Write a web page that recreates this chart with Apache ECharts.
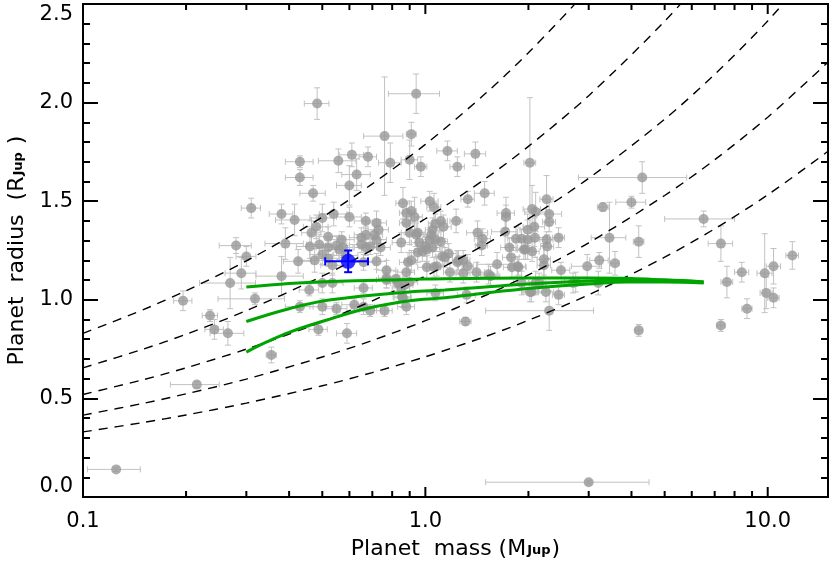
<!DOCTYPE html>
<html>
<head>
<meta charset="utf-8">
<script src="https://cdn.jsdelivr.net/npm/echarts@6/dist/echarts.min.js"></script>
<style>
  html, body { margin: 0; padding: 0; background: #fff; }
  #mass_radius { width: 830px; height: 568px; }
</style>
</head>
<body>
<div id="mass_radius"></div>
<script>
// known transiting planets: mass (MJup), radius (RJup) and their errors
var planetMass = [0.125, 0.196, 0.215, 0.235, 0.242, 0.265, 0.269, 0.318, 0.355, 0.43, 0.458, 0.487, 0.50, 0.50, 0.535, 0.55, 0.59, 0.62, 0.66, 0.66,
  0.69, 0.76, 0.77, 0.83, 0.855, 0.88, 0.483, 0.94, 0.76, 0.91, 0.61, 0.557, 0.68, 0.43, 0.43, 0.63, 0.79, 0.90, 0.60, 0.47,
  0.31, 0.38, 0.415, 0.54, 0.60, 0.50, 0.86, 0.88, 0.91, 0.67, 0.72, 0.73, 0.48, 0.465, 0.52, 0.57, 0.67, 0.65, 0.71, 0.72,
  0.39, 0.49, 0.46, 0.52, 0.65, 0.67, 0.69, 0.74, 0.28, 0.30, 0.29, 0.56, 0.585, 0.52, 0.475, 0.425, 0.72, 0.77, 0.66, 0.38,
  0.77, 0.82, 0.90, 0.87, 0.91, 0.90, 0.88, 0.97, 1.16, 1.24, 1.40, 2.02, 1.03, 1.06, 1.33, 1.49, 1.23, 1.11, 1.07, 1.72,
  1.72, 2.05, 2.10, 2.26, 2.30, 2.30, 2.08, 1.71, 1.42, 1.47, 1.46, 1.84, 1.91, 2.09, 2.26, 2.45, 2.27, 1.94, 2.05, 1.76,
  1.78, 1.62, 1.79, 1.87, 2.22, 2.22, 2.49, 2.97, 3.22, 3.58, 3.30, 4.00, 4.30, 3.45, 4.20, 6.50, 7.30, 7.60, 8.40, 9.80,
  10.4, 11.8, 1.14, 1.17, 1.01, 1.08, 1.24, 1.29, 1.33, 1.41, 1.55, 1.13, 0.93, 0.95, 0.96, 0.98, 1.03, 1.05, 1.07, 1.05,
  1.07, 1.32, 2.04, 2.25, 2.45, 2.30, 1.31, 4.20, 7.30, 8.70, 9.90, 10.4, 3.00, 2.70, 3.20, 1.91, 2.10, 0.94, 1.04, 0.85,
  1.00, 1.01, 1.11, 0.95, 1.12, 1.25, 1.53, 1.86, 1.96, 1.99, 1.99, 0.89, 1.06, 0.88, 1.18, 1.29, 0.85, 0.86, 2.15, 2.02,
  2.75, 0.50, 0.575, 0.535, 0.55];
var planetRadius = [0.14, 0.995, 0.57, 0.92, 0.85, 0.83, 1.085, 1.005, 0.72, 0.965, 1.05, 0.85, 1.085, 0.965, 1.085, 0.955, 0.83, 0.975, 1.06, 0.965,
  0.945, 0.945, 1.10, 1.085, 1.015, 0.965, 1.995, 2.045, 1.83, 1.84, 1.735, 1.705, 1.725, 1.70, 1.62, 1.635, 1.695, 1.71, 1.58, 1.54,
  1.465, 1.435, 1.405, 1.435, 1.42, 1.415, 1.49, 1.44, 1.45, 1.40, 1.39, 1.355, 1.37, 1.34, 1.32, 1.305, 1.33, 1.315, 1.33, 1.305,
  1.285, 1.28, 1.27, 1.265, 1.28, 1.265, 1.27, 1.265, 1.275, 1.22, 1.135, 1.255, 1.225, 1.21, 1.20, 1.195, 1.195, 1.15, 1.19, 1.12,
  1.11, 1.105, 1.09, 1.075, 1.20, 1.34, 1.39, 1.675, 1.755, 1.675, 1.74, 1.695, 1.50, 1.47, 1.51, 1.54, 1.40, 1.40, 1.385, 1.44,
  1.42, 1.46, 1.445, 1.51, 1.435, 1.395, 1.37, 1.345, 1.34, 1.31, 1.275, 1.31, 1.31, 1.315, 1.305, 1.315, 1.27, 1.255, 1.245, 1.265,
  1.215, 1.18, 1.165, 1.165, 1.205, 1.175, 1.15, 1.17, 1.20, 1.185, 1.47, 1.495, 1.62, 1.315, 1.295, 1.41, 1.285, 1.09, 1.14, 1.135,
  1.17, 1.225, 1.215, 1.235, 1.165, 1.17, 1.19, 1.20, 1.17, 1.14, 1.12, 1.37, 1.42, 1.34, 1.29, 1.245, 1.305, 1.265, 1.305, 1.355,
  1.035, 1.025, 1.04, 1.04, 1.025, 0.945, 0.89, 0.845, 0.87, 0.955, 1.035, 1.01, 0.075, 1.085, 1.085, 1.085, 1.085, 1.33, 1.33, 1.29,
  1.27, 1.255, 1.295, 1.24, 1.22, 1.20, 1.13, 1.17, 1.255, 1.305, 1.355, 1.19, 1.165, 1.14, 1.14, 1.135, 1.06, 1.01, 1.085, 1.04,
  1.09, 1.23, 1.265, 1.175, 1.275];
var massErr = [0.022, 0.012, 0.035, 0.012, 0.015, 0.03, 0.05, 0.07, 0.012, 0.04, 0.03, 0.03, 0.04, 0.04, 0.04, 0.04, 0.04, 0.05, 0.04, 0.05,
  0.05, 0.04, 0.05, 0.04, 0.05, 0.05, 0.04, 0.16, 0.10, 0.03, 0.05, 0.07, 0.04, 0.04, 0.04, 0.06, 0.06, 0.05, 0.05, 0.04,
  0.02, 0.03, 0.05, 0.05, 0.05, 0.04, 0.04, 0.04, 0.03, 0.05, 0.05, 0.05, 0.04, 0.03, 0.04, 0.05, 0.05, 0.05, 0.04, 0.05,
  0.05, 0.04, 0.04, 0.04, 0.05, 0.05, 0.05, 0.05, 0.03, 0.02, 0.03, 0.04, 0.05, 0.04, 0.05, 0.04, 0.05, 0.05, 0.05, 0.06,
  0.04, 0.04, 0.05, 0.05, 0.04, 0.05, 0.04, 0.04, 0.08, 0.06, 0.10, 0.08, 0.06, 0.05, 0.06, 0.10, 0.05, 0.05, 0.05, 0.10,
  0.05, 0.12, 0.15, 0.10, 0.20, 0.10, 0.15, 0.15, 0.10, 0.08, 0.06, 0.10, 0.10, 0.15, 0.10, 0.10, 0.10, 0.10, 0.10, 0.10,
  0.10, 0.20, 0.10, 0.10, 0.10, 0.10, 0.15, 0.30, 0.20, 0.10, 0.12, 0.40, 1.50, 0.40, 0.15, 1.50, 0.60, 0.30, 0.40, 0.50,
  0.50, 0.50, 0.06, 0.06, 0.06, 0.05, 0.08, 0.06, 0.05, 0.08, 0.10, 0.06, 0.05, 0.05, 0.05, 0.05, 0.05, 0.05, 0.05, 0.05,
  0.06, 0.08, 0.10, 0.12, 0.10, 0.80, 0.05, 0.10, 0.20, 0.30, 0.40, 0.40, 1.50, 0.20, 0.30, 0.10, 0.10, 0.05, 0.05, 0.05,
  0.05, 0.05, 0.05, 0.05, 0.05, 0.05, 0.10, 0.10, 0.10, 0.10, 0.10, 0.05, 0.05, 0.05, 0.05, 0.06, 0.05, 0.05, 0.10, 0.10,
  0.20, 0.04, 0.04, 0.04, 0.04];
var radiusErr = [0.01, 0.05, 0.015, 0.03, 0.05, 0.06, 0.13, 0.03, 0.04, 0.03, 0.03, 0.03, 0.05, 0.04, 0.05, 0.03, 0.05, 0.03, 0.03, 0.04,
  0.03, 0.03, 0.04, 0.04, 0.05, 0.04, 0.08, 0.10, 0.30, 0.06, 0.06, 0.06, 0.05, 0.03, 0.04, 0.08, 0.10, 0.10, 0.10, 0.04,
  0.05, 0.05, 0.08, 0.06, 0.05, 0.07, 0.08, 0.06, 0.05, 0.04, 0.06, 0.05, 0.06, 0.06, 0.05, 0.04, 0.04, 0.05, 0.05, 0.04,
  0.08, 0.05, 0.06, 0.05, 0.04, 0.04, 0.04, 0.04, 0.04, 0.05, 0.08, 0.05, 0.05, 0.04, 0.06, 0.06, 0.04, 0.05, 0.04, 0.10,
  0.05, 0.04, 0.05, 0.04, 0.05, 0.06, 0.06, 0.05, 0.05, 0.05, 0.06, 0.33, 0.05, 0.07, 0.04, 0.06, 0.06, 0.05, 0.05, 0.08,
  0.06, 0.12, 0.10, 0.12, 0.06, 0.05, 0.10, 0.08, 0.06, 0.05, 0.05, 0.06, 0.05, 0.10, 0.04, 0.05, 0.06, 0.05, 0.05, 0.05,
  0.06, 0.06, 0.05, 0.04, 0.08, 0.10, 0.04, 0.06, 0.04, 0.06, 0.02, 0.03, 0.08, 0.18, 0.08, 0.04, 0.09, 0.08, 0.05, 0.20,
  0.09, 0.07, 0.05, 0.05, 0.06, 0.05, 0.06, 0.05, 0.06, 0.05, 0.05, 0.06, 0.10, 0.08, 0.06, 0.05, 0.06, 0.05, 0.06, 0.06,
  0.04, 0.04, 0.05, 0.05, 0.05, 0.10, 0.02, 0.03, 0.03, 0.05, 0.08, 0.05, 0.01, 0.05, 0.06, 0.06, 0.06, 0.06, 0.06, 0.05,
  0.05, 0.06, 0.05, 0.05, 0.05, 0.05, 0.05, 0.05, 0.05, 0.10, 0.08, 0.05, 0.05, 0.05, 0.05, 0.05, 0.05, 0.05, 0.05, 0.05,
  0.05, 0.05, 0.05, 0.05, 0.05];

// highlighted planet
var newMass = [0.595], newRadius = [1.195], newMassErr = [0.085], newRadiusErr = [0.055];

// iso-density curves (dashed)
var isoMass = [0.1, 0.15, 0.2, 0.3, 0.5, 0.7, 1, 1.5, 2, 3, 5, 7, 10, 15];
var isoR1 = [0.83, 0.95, 1.046, 1.197, 1.419, 1.588, 1.788, 2.047, 2.253, 2.579, 3.058, 3.42, 3.853, 4.41];
var isoR2 = [0.655, 0.75, 0.825, 0.945, 1.12, 1.253, 1.411, 1.615, 1.778, 2.035, 2.413, 2.699, 3.04, 3.48];
var isoR3 = [0.52, 0.595, 0.655, 0.75, 0.889, 0.995, 1.12, 1.282, 1.411, 1.616, 1.916, 2.143, 2.414, 2.763];
var isoR4 = [0.415, 0.475, 0.523, 0.598, 0.71, 0.794, 0.894, 1.023, 1.126, 1.289, 1.529, 1.71, 1.926, 2.205];
var isoR5 = [0.33, 0.378, 0.416, 0.476, 0.564, 0.631, 0.711, 0.814, 0.896, 1.025, 1.216, 1.36, 1.532, 1.753];

// model tracks (green)
var trackTopM = [0.3, 0.4, 0.53, 0.77, 1, 2, 3, 4, 5, 6.5];
var trackTopR = [1.065, 1.083, 1.093, 1.1, 1.105, 1.11, 1.11, 1.108, 1.1, 1.09];
var trackMidM = [0.3, 0.4, 0.53, 0.9, 1.14, 1.5, 2, 3, 4, 5, 6.5];
var trackMidR = [0.89, 0.955, 1.0, 1.04, 1.05, 1.065, 1.08, 1.095, 1.1, 1.1, 1.09];
var trackLowM = [0.3, 0.343, 0.4, 0.51, 0.67, 0.9, 1.14, 1.5, 2.08, 3, 3.9, 5, 6.5];
var trackLowR = [0.735, 0.785, 0.835, 0.895, 0.955, 0.995, 1.01, 1.035, 1.06, 1.08, 1.09, 1.09, 1.085];

// x tick marks
var xMajorTicks = [0.1, 1, 10];
var xMinorTicks = [0.2, 0.3, 0.4, 0.5, 0.6, 0.7, 0.8, 0.9, 2, 3, 4, 5, 6, 7, 8, 9];

var FONT = 'DejaVu Sans';

function zip(a, b) {
  return a.map(function (v, i) { return [v, b[i]]; });
}

function errorBar(color, width, cap) {
  return function (params, api) {
    var m = api.value(0), r = api.value(1), dm = api.value(2), dr = api.value(3);
    var l = api.coord([m - dm, r]), h = api.coord([m + dm, r]);
    var b = api.coord([m, r - dr]), t = api.coord([m, r + dr]);
    var st = {stroke: color, lineWidth: width};
    function seg(x1, y1, x2, y2) {
      return {type: 'line', shape: {x1: x1, y1: y1, x2: x2, y2: y2}, style: st};
    }
    return {type: 'group', children: [
      seg(l[0], l[1], h[0], h[1]),
      seg(l[0], l[1] - cap, l[0], l[1] + cap),
      seg(h[0], h[1] - cap, h[0], h[1] + cap),
      seg(b[0], b[1], t[0], t[1]),
      seg(b[0] - cap, b[1], b[0] + cap, b[1]),
      seg(t[0] - cap, t[1], t[0] + cap, t[1])
    ]};
  };
}

function tickMarks(params, api) {
  var v = api.value(0), len = api.value(1);
  var p0 = api.coord([v, 0]), p1 = api.coord([v, 2.5]);
  var st = {stroke: '#000', lineWidth: 2};
  return {type: 'group', children: [
    {type: 'line', shape: {x1: p0[0], y1: p0[1], x2: p0[0], y2: p0[1] - len}, style: st},
    {type: 'line', shape: {x1: p1[0], y1: p1[1], x2: p1[0], y2: p1[1] + len}, style: st}
  ]};
}

function yAxisOf(pos, showLabel) {
  return {
    type: 'value', position: pos, min: 0, max: 2.5, interval: 0.5,
    axisLine: {show: false},
    axisTick: {show: true, inside: true, length: 15, lineStyle: {color: '#000', width: 2}},
    minorTick: {show: true, splitNumber: 5, length: 7, lineStyle: {color: '#000', width: 2}},
    splitLine: {show: false},
    minorSplitLine: {show: false},
    axisLabel: {
      show: showLabel, margin: 10, color: '#000', fontFamily: FONT, fontSize: 21,
      verticalAlignMinLabel: 'bottom', verticalAlignMaxLabel: 'top',
      formatter: function (v) { return v.toFixed(1); }
    }
  };
}

var errData = planetMass.map(function (m, i) {
  return [m, planetRadius[i], massErr[i], radiusErr[i]];
});
var newErrData = newMass.map(function (m, i) {
  return [m, newRadius[i], newMassErr[i], newRadiusErr[i]];
});
var tickData = xMajorTicks.map(function (v) { return [v, 10]; })
  .concat(xMinorTicks.map(function (v) { return [v, 6]; }));

var isoSeries = [isoR1, isoR2, isoR3, isoR4, isoR5].map(function (r) {
  return {
    type: 'line', data: zip(isoMass, r), symbol: 'none', smooth: 0.3, silent: true,
    lineStyle: {color: '#000', width: 1.4, type: [9, 7]}, z: 3
  };
});
var trackSeries = [[trackTopM, trackTopR], [trackMidM, trackMidR], [trackLowM, trackLowR]].map(function (t) {
  return {
    type: 'line', data: zip(t[0], t[1]), symbol: 'none', smooth: 0.4, silent: true,
    lineStyle: {color: '#00a400', width: 3}, z: 4
  };
});

var nameRich = {
  m: {fontFamily: FONT, fontSize: 22, color: '#000', verticalAlign: 'bottom'},
  s: {fontFamily: FONT, fontSize: 13, fontWeight: 'bold', color: '#000', verticalAlign: 'bottom', padding: [0, 1, 3, 1]}
};

var option = {
  animation: false,
  backgroundColor: '#fff',
  grid: {
    left: 83, right: 2, top: 4, bottom: 71,
    show: true, borderColor: '#000', borderWidth: 2,
    outerBoundsMode: 'none'
  },
  xAxis: {
    type: 'log', logBase: 10, min: 0.1, max: 15,
    axisLine: {show: false},
    axisTick: {show: false},
    splitLine: {show: false},
    axisLabel: {
      margin: 14, color: '#000', fontFamily: FONT, fontSize: 21, showMaxLabel: false,
      formatter: function (v) {
        var e = Math.log(v) / Math.LN10;
        if (Math.abs(e - Math.round(e)) > 1e-6) return '';
        return v < 1 ? '0.1' : v.toFixed(1);
      }
    },
    name: '{m|Planet  mass (M}{s|Jup}{m|)}',
    nameLocation: 'middle', nameGap: 41,
    nameTextStyle: {rich: nameRich}
  },
  yAxis: [yAxisOf('left', true), yAxisOf('right', false)],
  series: [
    {
      type: 'custom', renderItem: errorBar('#c2c2c2', 1, 3), data: errData, silent: true, z: 1
    },
    {
      type: 'scatter', data: zip(planetMass, planetRadius), symbol: 'circle', symbolSize: 10, silent: true,
      itemStyle: {color: '#999999'}, z: 2
    }
  ].concat(isoSeries).concat(trackSeries).concat([
    {
      type: 'custom', renderItem: errorBar('#0000ff', 2, 4), data: newErrData, silent: true, z: 5
    },
    {
      type: 'scatter', data: zip(newMass, newRadius), symbol: 'circle', symbolSize: 15, silent: true,
      itemStyle: {color: '#0000ff'}, z: 6
    },
    {
      type: 'custom', renderItem: tickMarks, data: tickData, silent: true, clip: false, z: 7
    }
  ])
};

// y axis title placed on the left axis
option.yAxis[0].name = '{m|Planet  radius  (R}{s|Jup}{m| )}';
option.yAxis[0].nameLocation = 'middle';
option.yAxis[0].nameGap = 55;
option.yAxis[0].nameTextStyle = {rich: nameRich};

var chart = echarts.init(document.getElementById('mass_radius'));
chart.setOption(option, true);
</script>
</body>
</html>
